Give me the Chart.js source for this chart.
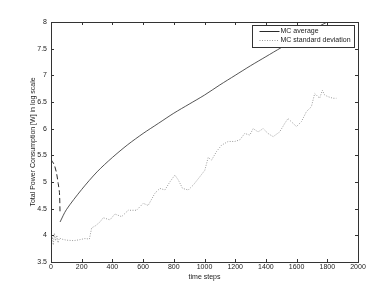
<!DOCTYPE html>
<html>
<head>
<meta charset="utf-8">
<script src="https://cdn.jsdelivr.net/npm/chart.js@4"></script>
<style>
  html, body { margin: 0; padding: 0; background: #fff; }
  #wrap { width: 392px; height: 294px; }
</style>
</head>
<body>
<div id="wrap"><canvas id="chart" width="392" height="294"></canvas></div>
<script>
// start-up transient of the average (drawn dashed in the figure)
const startSteps = [0, 20, 35, 47, 55, 59];
const startAvg = [5.42, 5.33, 5.18, 4.97, 4.8, 4.42];

// MC average
const avgSteps = [59, 100, 200, 300, 400, 500, 600, 700, 800, 900, 1000, 1100, 1200, 1300, 1400, 1500, 1600, 1700, 1800, 1850];
const avgValues = [4.25, 4.48, 4.86, 5.19, 5.46, 5.7, 5.91, 6.1, 6.29, 6.46, 6.63, 6.82, 7.0, 7.18, 7.35, 7.52, 7.68, 7.85, 8.0, 8.07];

// MC standard deviation
const sdSteps = [0, 8, 15, 22, 30, 38, 46, 55, 69, 100, 150, 190, 221, 250, 265, 290, 319, 340, 384, 416, 460, 503, 557, 601, 633, 677, 709, 742, 774, 807, 829, 857, 894, 926, 970, 1002, 1024, 1046, 1078, 1111, 1154, 1197, 1230, 1262, 1295, 1317, 1349, 1382, 1414, 1447, 1490, 1523, 1544, 1577, 1599, 1631, 1664, 1696, 1718, 1750, 1768, 1783, 1805, 1837, 1859];
const sdValues = [3.85, 3.97, 3.82, 4.04, 3.9, 4.0, 3.86, 3.95, 3.93, 3.91, 3.9, 3.92, 3.94, 3.93, 4.14, 4.18, 4.25, 4.33, 4.29, 4.4, 4.35, 4.47, 4.47, 4.6, 4.56, 4.79, 4.88, 4.85, 5.0, 5.13, 5.04, 4.88, 4.85, 4.94, 5.1, 5.22, 5.46, 5.41, 5.57, 5.69, 5.76, 5.76, 5.79, 5.91, 5.88, 6.0, 5.94, 6.0, 5.91, 5.85, 5.94, 6.1, 6.19, 6.1, 6.04, 6.13, 6.32, 6.41, 6.66, 6.57, 6.72, 6.63, 6.6, 6.57, 6.57];

const xTicks = [0, 200, 400, 600, 800, 1000, 1200, 1400, 1600, 1800, 2000];
const yTicks = [3.5, 4, 4.5, 5, 5.5, 6, 6.5, 7, 7.5, 8];

const legendLabels = ['MC average', 'MC standard deviation'];

const FONT = 'Liberation Sans, Arial, sans-serif';
const AVG_COLOR = '#2a2a2a';
const SD_COLOR = '#9a9a9a';

const toPoints = (xs, ys) => xs.map((x, i) => ({ x, y: ys[i] }));

// MATLAB-like box with inward ticks on all four sides, plus boxed legend
const frame = {
  id: 'frame',
  afterDatasetsDraw(chart) {
    const { ctx, chartArea: a, scales: { x, y } } = chart;
    const len = 3;
    ctx.save();
    ctx.strokeStyle = '#333';
    ctx.lineWidth = 1;
    ctx.beginPath();
    xTicks.forEach(v => {
      const px = Math.round(x.getPixelForValue(v)) + 0.5;
      ctx.moveTo(px, a.bottom); ctx.lineTo(px, a.bottom - len);
      ctx.moveTo(px, a.top); ctx.lineTo(px, a.top + len);
    });
    yTicks.forEach(v => {
      const py = Math.round(y.getPixelForValue(v)) + 0.5;
      ctx.moveTo(a.left, py); ctx.lineTo(a.left + len, py);
      ctx.moveTo(a.right, py); ctx.lineTo(a.right - len, py);
    });
    ctx.stroke();
    ctx.strokeRect(Math.round(a.left) + 0.5, Math.round(a.top) + 0.5,
      Math.round(a.right - a.left), Math.round(a.bottom - a.top));

    // legend
    const lx = 252.5, ly = 25.5, lw = 102, lh = 22;
    ctx.fillStyle = '#fff';
    ctx.fillRect(lx, ly, lw, lh);
    ctx.strokeStyle = '#333';
    ctx.strokeRect(lx, ly, lw, lh);
    const rows = [
      { y: ly + 6, color: AVG_COLOR, dash: [] },
      { y: ly + 15, color: SD_COLOR, dash: [1, 1.5] },
    ];
    ctx.font = '7px ' + FONT;
    ctx.textBaseline = 'middle';
    rows.forEach((r, i) => {
      ctx.strokeStyle = r.color;
      ctx.setLineDash(r.dash);
      ctx.beginPath();
      ctx.moveTo(lx + 7, r.y); ctx.lineTo(lx + 27, r.y);
      ctx.stroke();
      ctx.setLineDash([]);
      ctx.fillStyle = '#222';
      ctx.fillText(legendLabels[i], lx + 28, r.y);
    });
    ctx.restore();
  }
};

new Chart(document.getElementById('chart'), {
  type: 'line',
  data: {
    datasets: [
      {
        label: 'start',
        data: toPoints(startSteps, startAvg),
        borderColor: AVG_COLOR,
        borderWidth: 1,
        borderDash: [5, 3],
        pointRadius: 0,
        tension: 0.3,
      },
      {
        label: legendLabels[0],
        data: toPoints(avgSteps, avgValues),
        borderColor: AVG_COLOR,
        borderWidth: 0.8,
        pointRadius: 0,
        tension: 0.3,
      },
      {
        label: legendLabels[1],
        data: toPoints(sdSteps, sdValues),
        borderColor: SD_COLOR,
        borderWidth: 1,
        borderDash: [1, 1.5],
        pointRadius: 0,
        tension: 0,
      },
    ],
  },
  options: {
    responsive: false,
    animation: false,
    layout: { padding: { left: 0, right: 34, top: 22, bottom: 0 } },
    plugins: {
      legend: { display: false },
      tooltip: { enabled: false },
    },
    scales: {
      x: {
        type: 'linear',
        min: 0,
        max: 2000,
        afterBuildTicks: (s) => { s.ticks = xTicks.map(v => ({ value: v })); },
        afterFit: (s) => { s.height = 32; },
        grid: { display: false, drawTicks: false },
        border: { display: false },
        ticks: { color: '#222', font: { family: FONT, size: 7 }, padding: 1, maxRotation: 0, callback: (v) => String(v) },
        title: {
          display: true,
          text: 'time steps',
          color: '#222',
          font: { family: FONT, size: 7 },
          padding: { top: 0, bottom: 13 },
        },
      },
      y: {
        min: 3.5,
        max: 8,
        afterBuildTicks: (s) => { s.ticks = yTicks.map(v => ({ value: v })); },
        afterFit: (s) => { s.width = 51; },
        grid: { display: false, drawTicks: false },
        border: { display: false },
        ticks: { color: '#222', font: { family: FONT, size: 7 }, padding: 4, callback: (v) => String(v) },
        title: {
          display: true,
          text: 'Total Power Consumption [W] in log scale',
          color: '#222',
          font: { family: FONT, size: 7 },
          padding: { top: 29, bottom: 0 },
        },
      },
    },
  },
  plugins: [frame],
});
</script>
</body>
</html>
